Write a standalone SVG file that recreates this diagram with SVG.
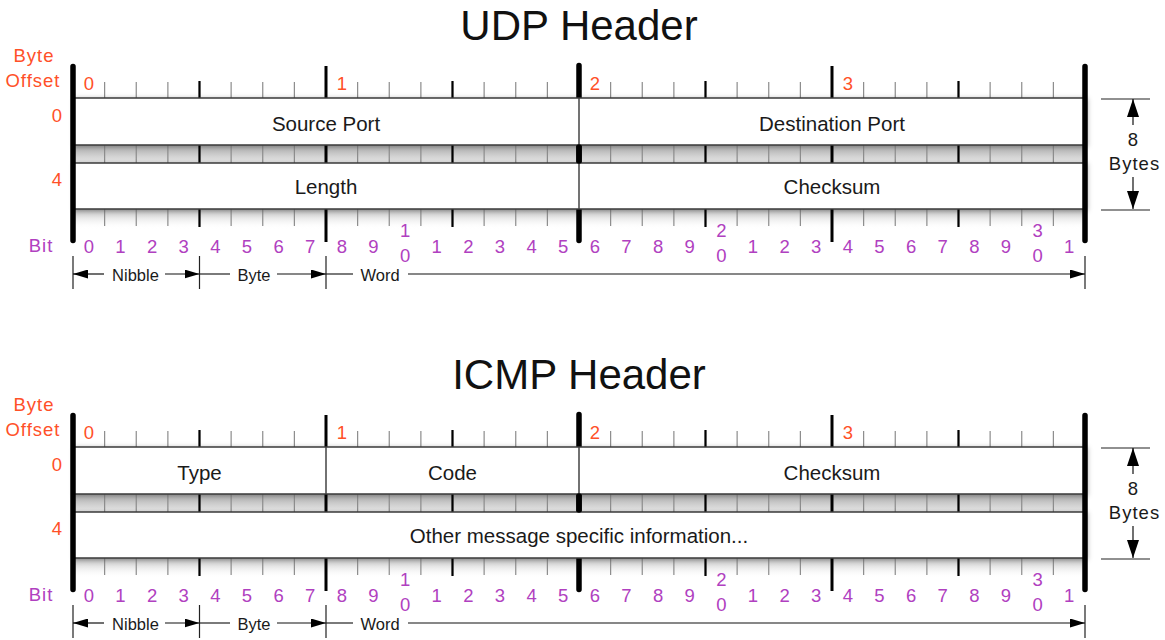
<svg xmlns="http://www.w3.org/2000/svg" width="1165" height="640" viewBox="0 0 1165 640">
<defs>
<style>
text{font-family:"Liberation Sans",Arial,Helvetica,sans-serif}
.title{font-size:42px;fill:#111;text-anchor:middle}
.offc{font-size:18.5px;letter-spacing:1px;fill:#ff5028;text-anchor:middle}
.offr{font-size:18.5px;fill:#ff5028;text-anchor:end}
.num{font-size:18.5px;fill:#ff5028;text-anchor:middle}
.bit{font-size:18.5px;fill:#b040c0;text-anchor:middle}
.bitl{font-size:18.5px;letter-spacing:1px;fill:#b040c0;text-anchor:middle}
.fld{font-size:20.5px;fill:#1a1a1a;text-anchor:middle}
.dim{font-size:16.5px;fill:#1a1a1a;text-anchor:middle}
.dim8{font-size:18.5px;letter-spacing:1px;fill:#1a1a1a;text-anchor:middle}
.row{fill:#fff;stroke:#3a3a3a;stroke-width:1.5}
.div{stroke:#444;stroke-width:1.5;fill:none}
.minor{stroke:#8c8c8c;fill:none}
.nib{stroke:#000;stroke-width:2.2;fill:none}
.byte{stroke:#000;stroke-width:3;fill:none}
.word{stroke:#000;stroke-width:5.5;fill:none;stroke-linecap:round}
.bar{stroke:#000;stroke-width:5.5;fill:none;stroke-linecap:round}
.ln{stroke:#222;stroke-width:1.2;fill:none}
.arr{stroke:#111;stroke-width:1.2;fill:none;marker-end:url(#ah)}
.arrv{stroke:#111;stroke-width:1.2;fill:none;marker-end:url(#av)}
</style>
<linearGradient id="band" x1="0" y1="0" x2="0" y2="1">
<stop offset="0" stop-color="#a9a9a9"/>
<stop offset="1" stop-color="#ebebeb"/>
</linearGradient>
<linearGradient id="fade" x1="0" y1="0" x2="0" y2="1">
<stop offset="0" stop-color="#b4b4b4"/>
<stop offset="1" stop-color="#ffffff" stop-opacity="0"/>
</linearGradient>
<filter id="sh" x="-5%" y="-30%" width="110%" height="160%">
<feDropShadow dx="2" dy="1" stdDeviation="2.5" flood-color="#000" flood-opacity="0.3"/>
</filter>
<marker id="ah" markerUnits="userSpaceOnUse" markerWidth="15" markerHeight="9" refX="15" refY="4.5" orient="auto">
<path d="M0 0L15 4.5L0 9z" fill="#000"/>
</marker>
<marker id="av" markerUnits="userSpaceOnUse" markerWidth="18" markerHeight="12" refX="18" refY="6" orient="auto">
<path d="M0 0L18 6L0 12z" fill="#000"/>
</marker>
</defs>
<rect width="1165" height="640" fill="#fff"/>

<!-- ===================== UDP ===================== -->
<g id="udp">
<g id="udp-title"><text class="title" x="579" y="39.5">UDP Header</text></g>
<g id="udp-labels">
<text class="offc" x="34" y="62">Byte</text>
<text class="offc" x="33" y="87">Offset</text>
<text class="offr" x="62" y="122">0</text>
<text class="offr" x="62" y="186">4</text>
<text class="bitl" x="41" y="252">Bit</text>
<text class="num" x="88.8" y="90">0</text>
<text class="num" x="341.8" y="90">1</text>
<text class="num" x="594.8" y="90">2</text>
<text class="num" x="847.8" y="90">3</text>
</g>
<g id="udp-ruler">
<rect x="73" y="145" width="1012" height="18" fill="url(#band)"/>
<rect x="73" y="209" width="1012" height="20" fill="url(#fade)"/>
<line class="minor" x1="104.025" y1="90" x2="1085" y2="90" stroke-width="16" stroke-dasharray="1.2 30.425"/>
<line class="minor" x1="104.025" y1="154" x2="1085" y2="154" stroke-width="18" stroke-dasharray="1.2 30.425"/>
<line class="minor" x1="104.025" y1="217.5" x2="1085" y2="217.5" stroke-width="17" stroke-dasharray="1.2 30.425"/>
<path class="nib" d="M199.5 81V98M452.5 81V98M705.5 81V98M958.5 81V98M199.5 145V163M452.5 145V163M705.5 145V163M958.5 145V163M199.5 209V227M452.5 209V227M705.5 209V227M958.5 209V227"/>
<path class="byte" d="M326 66V98M832 66V98M326 145V163M832 145V163M326 209V242M832 209V242"/>
<path class="word" d="M579 65.5V98M579 145V163M579 209V240.5"/>
</g>
<g id="udp-rows" filter="url(#sh)">
<rect class="row" x="73" y="98" width="1012" height="47"/>
<rect class="row" x="73" y="163" width="1012" height="46"/>
</g>
<path class="div" d="M579 98V209"/>
<path class="word" d="M579 147V161"/>
<path class="bar" d="M73 66.5V240.5M1085 66.5V240.5"/>
<g id="udp-source-port"><text class="fld" x="326" y="130.5">Source Port</text></g>
<g id="udp-destination-port"><text class="fld" x="832" y="130.5">Destination Port</text></g>
<g id="udp-length"><text class="fld" x="326" y="193.5">Length</text></g>
<g id="udp-checksum"><text class="fld" x="832" y="193.5">Checksum</text></g>
<g id="udp-bits">
<text class="bit" x="88.8" y="252.5">0</text>
<text class="bit" x="120.4" y="252.5">1</text>
<text class="bit" x="152.1" y="252.5">2</text>
<text class="bit" x="183.7" y="252.5">3</text>
<text class="bit" x="215.3" y="252.5">4</text>
<text class="bit" x="246.9" y="252.5">5</text>
<text class="bit" x="278.6" y="252.5">6</text>
<text class="bit" x="310.2" y="252.5">7</text>
<text class="bit" x="341.8" y="252.5">8</text>
<text class="bit" x="373.4" y="252.5">9</text>
<text class="bit" x="405.1" y="237">1</text>
<text class="bit" x="405.1" y="262">0</text>
<text class="bit" x="436.7" y="252.5">1</text>
<text class="bit" x="468.3" y="252.5">2</text>
<text class="bit" x="499.9" y="252.5">3</text>
<text class="bit" x="531.6" y="252.5">4</text>
<text class="bit" x="563.2" y="252.5">5</text>
<text class="bit" x="594.8" y="252.5">6</text>
<text class="bit" x="626.4" y="252.5">7</text>
<text class="bit" x="658.1" y="252.5">8</text>
<text class="bit" x="689.7" y="252.5">9</text>
<text class="bit" x="721.3" y="237">2</text>
<text class="bit" x="721.3" y="262">0</text>
<text class="bit" x="752.9" y="252.5">1</text>
<text class="bit" x="784.6" y="252.5">2</text>
<text class="bit" x="816.2" y="252.5">3</text>
<text class="bit" x="847.8" y="252.5">4</text>
<text class="bit" x="879.4" y="252.5">5</text>
<text class="bit" x="911.1" y="252.5">6</text>
<text class="bit" x="942.7" y="252.5">7</text>
<text class="bit" x="974.3" y="252.5">8</text>
<text class="bit" x="1005.9" y="252.5">9</text>
<text class="bit" x="1037.6" y="237">3</text>
<text class="bit" x="1037.6" y="262">0</text>
<text class="bit" x="1069.2" y="252.5">1</text>
</g>
<g id="udp-dimensions">
<text class="dim" x="135.5" y="281">Nibble</text>
<text class="dim" x="254" y="281">Byte</text>
<text class="dim" x="380" y="281">Word</text>
<text class="dim8" x="1133.5" y="146">8</text>
<text class="dim8" x="1134.5" y="170">Bytes</text>
</g>
<g id="udp-connectors">
<path class="ln" d="M73 256V289M199.5 256V289M326 256V289M1085 256V289"/>
<path class="arr" d="M104 274H73"/>
<path class="arr" d="M165 274H199.5"/>
<path class="ln" d="M199.5 274H230"/>
<path class="arr" d="M277 274H326"/>
<path class="ln" d="M326 274H353"/>
<path class="arr" d="M408 274H1085"/>
<path class="ln" d="M1101 99H1150M1101 210H1150"/>
<path class="arrv" d="M1133 125V99"/>
<path class="arrv" d="M1133 177V209"/>
</g>
</g>

<!-- ===================== ICMP ===================== -->
<g id="icmp" transform="translate(0,349)">
<g id="icmp-title"><text class="title" x="579" y="39.5">ICMP Header</text></g>
<g id="icmp-labels">
<text class="offc" x="34" y="62">Byte</text>
<text class="offc" x="33" y="87">Offset</text>
<text class="offr" x="62" y="122">0</text>
<text class="offr" x="62" y="186">4</text>
<text class="bitl" x="41" y="252">Bit</text>
<text class="num" x="88.8" y="90">0</text>
<text class="num" x="341.8" y="90">1</text>
<text class="num" x="594.8" y="90">2</text>
<text class="num" x="847.8" y="90">3</text>
</g>
<g id="icmp-ruler">
<rect x="73" y="145" width="1012" height="18" fill="url(#band)"/>
<rect x="73" y="209" width="1012" height="20" fill="url(#fade)"/>
<line class="minor" x1="104.025" y1="90" x2="1085" y2="90" stroke-width="16" stroke-dasharray="1.2 30.425"/>
<line class="minor" x1="104.025" y1="154" x2="1085" y2="154" stroke-width="18" stroke-dasharray="1.2 30.425"/>
<line class="minor" x1="104.025" y1="217.5" x2="1085" y2="217.5" stroke-width="17" stroke-dasharray="1.2 30.425"/>
<path class="nib" d="M199.5 81V98M452.5 81V98M705.5 81V98M958.5 81V98M199.5 145V163M452.5 145V163M705.5 145V163M958.5 145V163M199.5 209V227M452.5 209V227M705.5 209V227M958.5 209V227"/>
<path class="byte" d="M326 66V98M832 66V98M326 145V163M832 145V163M326 209V242M832 209V242"/>
<path class="word" d="M579 65.5V98M579 145V163M579 209V240.5"/>
</g>
<g id="icmp-rows" filter="url(#sh)">
<rect class="row" x="73" y="98" width="1012" height="47"/>
<rect class="row" x="73" y="163" width="1012" height="46"/>
</g>
<path class="div" d="M326 98V145M579 98V145"/>
<path class="word" d="M579 147V161"/>
<path class="bar" d="M73 66.5V240.5M1085 66.5V240.5"/>
<g id="icmp-type"><text class="fld" x="199.5" y="130.5">Type</text></g>
<g id="icmp-code"><text class="fld" x="452.5" y="130.5">Code</text></g>
<g id="icmp-checksum"><text class="fld" x="832" y="130.5">Checksum</text></g>
<g id="icmp-other"><text class="fld" x="579" y="193.5">Other message specific information...</text></g>
<g id="icmp-bits">
<text class="bit" x="88.8" y="252.5">0</text>
<text class="bit" x="120.4" y="252.5">1</text>
<text class="bit" x="152.1" y="252.5">2</text>
<text class="bit" x="183.7" y="252.5">3</text>
<text class="bit" x="215.3" y="252.5">4</text>
<text class="bit" x="246.9" y="252.5">5</text>
<text class="bit" x="278.6" y="252.5">6</text>
<text class="bit" x="310.2" y="252.5">7</text>
<text class="bit" x="341.8" y="252.5">8</text>
<text class="bit" x="373.4" y="252.5">9</text>
<text class="bit" x="405.1" y="237">1</text>
<text class="bit" x="405.1" y="262">0</text>
<text class="bit" x="436.7" y="252.5">1</text>
<text class="bit" x="468.3" y="252.5">2</text>
<text class="bit" x="499.9" y="252.5">3</text>
<text class="bit" x="531.6" y="252.5">4</text>
<text class="bit" x="563.2" y="252.5">5</text>
<text class="bit" x="594.8" y="252.5">6</text>
<text class="bit" x="626.4" y="252.5">7</text>
<text class="bit" x="658.1" y="252.5">8</text>
<text class="bit" x="689.7" y="252.5">9</text>
<text class="bit" x="721.3" y="237">2</text>
<text class="bit" x="721.3" y="262">0</text>
<text class="bit" x="752.9" y="252.5">1</text>
<text class="bit" x="784.6" y="252.5">2</text>
<text class="bit" x="816.2" y="252.5">3</text>
<text class="bit" x="847.8" y="252.5">4</text>
<text class="bit" x="879.4" y="252.5">5</text>
<text class="bit" x="911.1" y="252.5">6</text>
<text class="bit" x="942.7" y="252.5">7</text>
<text class="bit" x="974.3" y="252.5">8</text>
<text class="bit" x="1005.9" y="252.5">9</text>
<text class="bit" x="1037.6" y="237">3</text>
<text class="bit" x="1037.6" y="262">0</text>
<text class="bit" x="1069.2" y="252.5">1</text>
</g>
<g id="icmp-dimensions">
<text class="dim" x="135.5" y="281">Nibble</text>
<text class="dim" x="254" y="281">Byte</text>
<text class="dim" x="380" y="281">Word</text>
<text class="dim8" x="1133.5" y="146">8</text>
<text class="dim8" x="1134.5" y="170">Bytes</text>
</g>
<g id="icmp-connectors">
<path class="ln" d="M73 256V289M199.5 256V289M326 256V289M1085 256V289"/>
<path class="arr" d="M104 274H73"/>
<path class="arr" d="M165 274H199.5"/>
<path class="ln" d="M199.5 274H230"/>
<path class="arr" d="M277 274H326"/>
<path class="ln" d="M326 274H353"/>
<path class="arr" d="M408 274H1085"/>
<path class="ln" d="M1101 99H1150M1101 210H1150"/>
<path class="arrv" d="M1133 125V99"/>
<path class="arrv" d="M1133 177V209"/>
</g>
</g>
</svg>
